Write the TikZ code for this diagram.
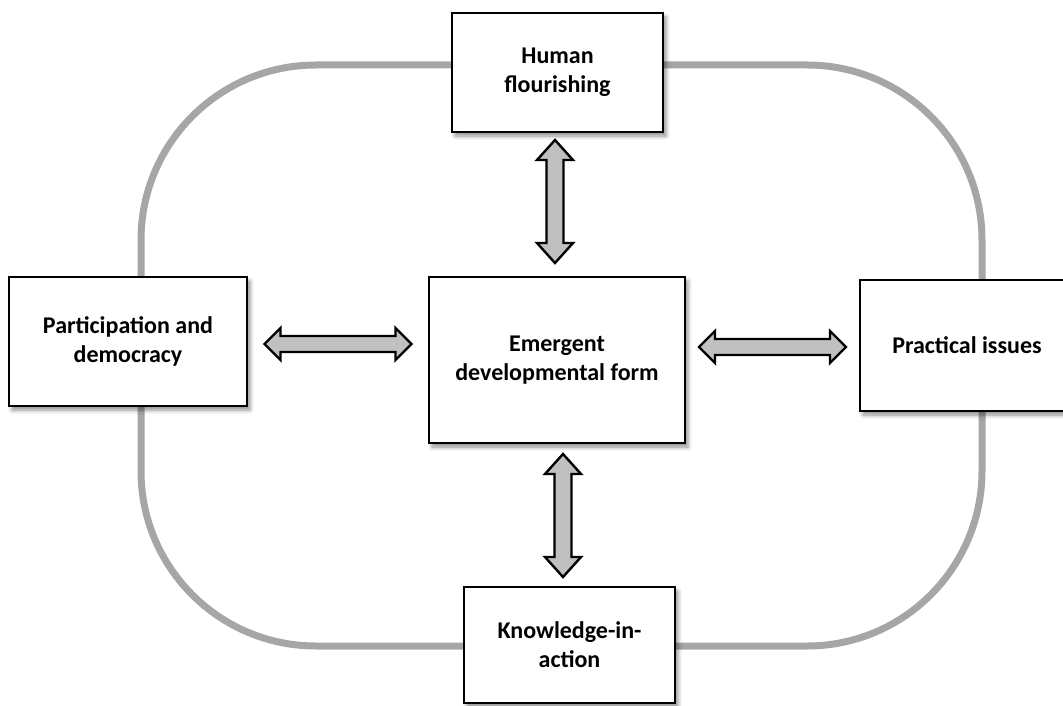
\documentclass[tikz,border=0pt]{standalone}
\usepackage{fontspec}
\setmainfont{Carlito}
\usetikzlibrary{calc,shadows.blur}

\definecolor{loopgray}{HTML}{A6A6A6}
\definecolor{arrowfill}{HTML}{C0C0C0}

\tikzset{
  box/.style={draw=black, line width=2.4pt, fill=white, inner sep=0pt,
    align=center, font=\fontsize{24}{29}\selectfont\bfseries,
    blur shadow={shadow xshift=3pt, shadow yshift=-4pt, shadow blur radius=4pt, shadow opacity=45}},
  cycleline/.style={draw=loopgray, line width=7pt, rounded corners=175pt},
  arrowbody/.style={draw=black, fill=arrowfill, line width=2.4pt, line join=miter},
  % vertical double arrow: length #1, head 36 wide / 20 long, shaft 17 wide
  pics/vdouble/.style={code={
    \path[arrowbody] (0,{-#1/2}) -- (18,{-#1/2+20}) -- (8.5,{-#1/2+20}) -- (8.5,{#1/2-20})
      -- (18,{#1/2-20}) -- (0,{#1/2}) -- (-18,{#1/2-20}) -- (-8.5,{#1/2-20})
      -- (-8.5,{-#1/2+20}) -- (-18,{-#1/2+20}) -- cycle;
  }},
  % horizontal double arrow: length #1, head 32 wide / 16 long, shaft 16 wide
  pics/hdouble/.style={code={
    \path[arrowbody] ({-#1/2},0) -- ({-#1/2+16},16) -- ({-#1/2+16},8) -- ({#1/2-16},8)
      -- ({#1/2-16},16) -- ({#1/2},0) -- ({#1/2-16},-16) -- ({#1/2-16},-8)
      -- ({-#1/2+16},-8) -- ({-#1/2+16},-16) -- cycle;
  }},
}

\begin{document}
\begin{tikzpicture}[x=1pt, y=-1pt]
  \useasboundingbox (0,0) rectangle (1063,706);

  % surrounding cycle
  \draw[cycleline] (141,65) rectangle (982,646);

  % boxes
  \node[box, minimum width=211pt, minimum height=119pt] (hf) at (557.5,72.5) {Human\\flourishing};
  \node[box, minimum width=238pt, minimum height=129pt] (pd) at (128,341.5) {Participation and\\democracy};
  \node[box, minimum width=256pt, minimum height=166pt] (em) at (557,360) {Emergent\\developmental form};
  \node[box, minimum width=214pt, minimum height=131pt] (pi) at (967,345.5) {Practical issues};
  \node[box, minimum width=211pt, minimum height=116pt] (ka) at (569.5,645) {Knowledge-in-\\action};

  % two-way links
  \coordinate (hf-em) at ($(hf.south)!0.5!(em.north)$);
  \coordinate (em-ka) at (563,515.5);
  \coordinate (pd-em) at ($(pd.east)!0.5!(em.west)$);
  \coordinate (em-pi) at ($(em.east)!0.5!(pi.west)$);

  \pic at (555,201.5) {vdouble=123};
  \pic at (em-ka) {vdouble=123};
  \pic at (pd-em |- 0,344) {hdouble=147};
  \pic at (em-pi |- 0,347) {hdouble=147};
\end{tikzpicture}
\end{document}
